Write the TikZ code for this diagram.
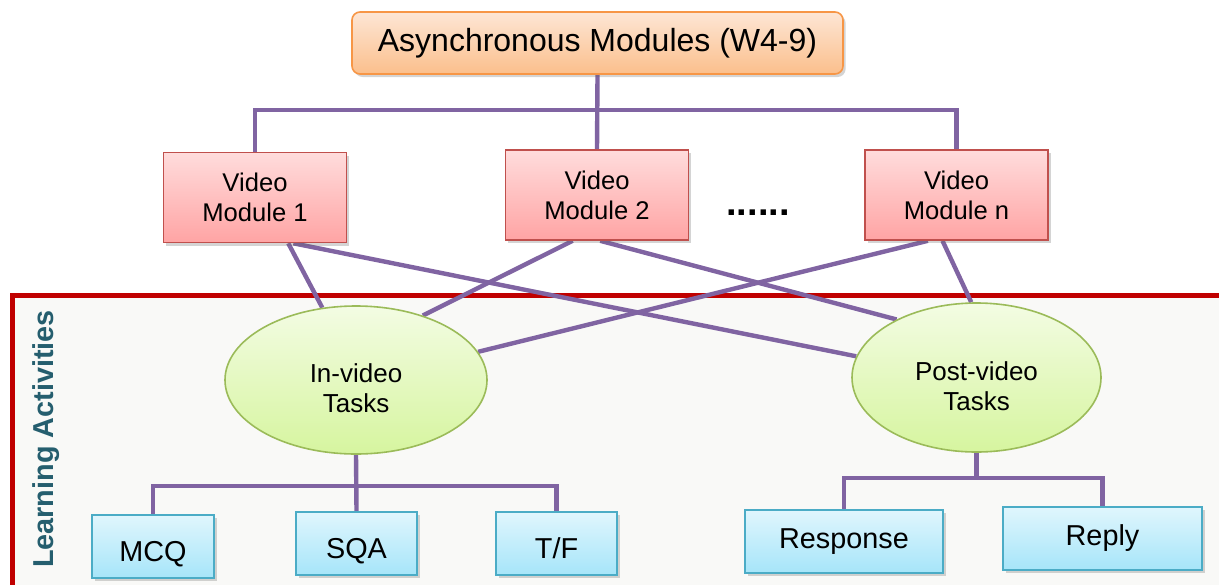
\documentclass[tikz,border=0pt]{standalone}
\usepackage{fontspec}
\setmainfont{Liberation Sans}
\usetikzlibrary{shapes.geometric,shadows,backgrounds}
\pgfdeclarelayer{back}
\pgfsetlayers{back,background,main}

\definecolor{linkpurple}{HTML}{8064A2}
\definecolor{frameRed}{HTML}{C00000}
\definecolor{frameBg}{HTML}{F9F9F7}
\definecolor{sideText}{HTML}{255E6E}
\definecolor{orBorder}{HTML}{F79646}
\definecolor{orTop}{HTML}{FDE6D5}
\definecolor{orBot}{HTML}{FBBF8C}
\definecolor{rdBorder}{HTML}{C0504D}
\definecolor{rdTop}{HTML}{FFDCDC}
\definecolor{rdBot}{HTML}{FFA4A4}
\definecolor{gnBorder}{HTML}{9BBB59}
\definecolor{gnTop}{HTML}{F3FCE3}
\definecolor{gnBot}{HTML}{D6F59F}
\definecolor{blBorder}{HTML}{4BACC6}
\definecolor{blTop}{HTML}{E0F6FD}
\definecolor{blBot}{HTML}{A6E5F9}

% taller first line pushes the two-line label a little below the centre
\newcommand{\lowstrut}{\rule{0pt}{18pt}}

\tikzset{
  boxshadow/.style={drop shadow={shadow xshift=1.3pt, shadow yshift=-1.5pt, opacity=0.28, fill=black!60}},
  toprect/.style={rectangle, rounded corners=4pt, draw=orBorder, line width=0.8pt,
    top color=orTop, bottom color=orBot, minimum width=245.5pt, minimum height=31pt,
    font=\fontsize{16}{19}\selectfont, boxshadow},
  vidbox/.style={rectangle, draw=rdBorder, line width=0.8pt, top color=rdTop, bottom color=rdBot,
    minimum width=91.5pt, minimum height=45pt, align=center,
    font=\fontsize{12.8}{15}\selectfont, boxshadow},
  taskell/.style={ellipse, draw=gnBorder, line width=0.8pt, top color=gnTop, bottom color=gnBot,
    minimum height=74pt, align=center, inner sep=1pt,
    font=\fontsize{13}{15}\selectfont},
  itembox/.style={rectangle, draw=blBorder, line width=0.8pt, top color=blTop, bottom color=blBot,
    minimum height=31.5pt, font=\fontsize{14.4}{17}\selectfont, boxshadow},
  lowtext/.style={text height=16pt, text depth=0.6pt},
  link/.style={draw=linkpurple, line width=2.2pt}
}

\begin{document}
\begin{tikzpicture}[x=0.5pt,y=-0.5pt]
\useasboundingbox (0,0) rectangle (1219,584);

% learning-activities frame
\begin{pgfonlayer}{back}
  \fill[frameBg] (12,295) rectangle (1240,600);
  \draw[frameRed, line width=2.5pt] (1240,295.5) -| (12.5,600);
\end{pgfonlayer}

\node[sideText, rotate=90, font=\bfseries\fontsize{14.4}{17}\selectfont] (side) at (46.5,439) {Learning Activities};

% module hierarchy
\node[toprect] (top) at (597.5,43) {Asynchronous Modules (W4-9)};

\node[vidbox] (v1) at (255,197.5) {Video\\Module 1};
\node[vidbox] (v2) at (597,195) {Video\\Module 2};
\node[vidbox] (vn) at (956.5,195) {Video\\Module n};
\node[font=\bfseries\fontsize{19}{20}\selectfont] (dots) at (758,213) {......};

% task types
\node[taskell, minimum width=131pt] (iv) at (356,380) {\lowstrut In-video\\Tasks};
\node[taskell, minimum width=124.5pt, minimum height=74.5pt] (pv) at (976.5,377.5) {\lowstrut Post-video\\Tasks};

% individual activities
\node[itembox, lowtext, minimum width=61pt] (mcq) at (153,546.5) {MCQ};
\node[itembox, lowtext, minimum width=60.5pt] (sqa) at (356.5,543.5) {SQA};
\node[itembox, lowtext, minimum width=60.5pt] (tf) at (556.5,543.5) {T/F};
\node[itembox, minimum width=99pt] (resp) at (844,541.5) {Response};
\node[itembox, minimum width=99.5pt] (reply) at (1102.5,538.5) {Reply};

\coordinate (topbus) at (597.5,110);
\coordinate (ivbus) at (356,486);
\coordinate (pvbus) at (976.5,478);

\begin{pgfonlayer}{background}
  % tree from the module header to the videos
  \draw[link] (top.south) -- (v2.north);
  \draw[link] (v1.north) |- (topbus) -| (vn.north);
  % videos to task types
  \draw[link] (v1.-54) -- (iv.115);
  \draw[link] (v1.-50) -- (pv.170);
  \draw[link] (v2.-118) -- (iv.44);
  \draw[link] (v2.-86) -- (pv.144);
  \draw[link] (vn.-122) -- (iv.13);
  \draw[link] (vn.-107) -- (pv.94);
  % task types to activities
  \draw[link] (iv.south) -- (sqa.north);
  \draw[link] (mcq.north) |- (ivbus) -| (tf.north);
  \draw[link] (pv.south) -- (pvbus);
  \draw[link] (resp.north) |- (pvbus) -| (reply.north);
\end{pgfonlayer}
\end{tikzpicture}
\end{document}
